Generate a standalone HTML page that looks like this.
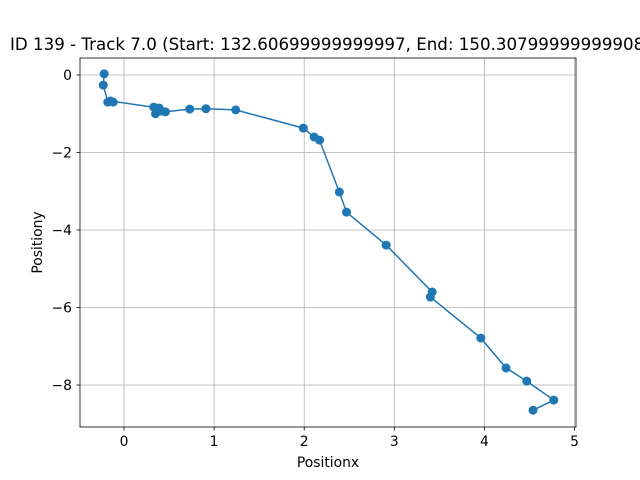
<!DOCTYPE html>
<html><head><meta charset="utf-8"><style>
html,body{margin:0;padding:0;background:#fff;}
svg{display:block;font-family:"DejaVu Sans","Liberation Sans",sans-serif;}
</style></head><body>
<svg id="chart" width="640" height="480" viewBox="0 0 640 480">
<rect width="640" height="480" fill="#fff"/>
<text x="10" y="50" font-size="16.67" fill="#000">ID 139 - Track 7.0 (Start: 132.60699999999997, End: 150.30799999999908)</text>
<g id="grid"></g>
<g id="series"></g>
<rect x="80" y="58" width="496" height="369" fill="none" stroke="#000" stroke-width="0.8"/>
<g id="axes"></g>
<text x="328" y="467" font-size="13.9" text-anchor="middle">Positionx</text>
<text transform="translate(42,242.5) rotate(-90)" font-size="13.9" text-anchor="middle">Positiony</text>
</svg>
<script>
const xValues = [-0.22,-0.23,-0.18,-0.12,-0.15,0.33,0.39,0.35,0.41,0.46,0.73,0.91,1.24,1.99,2.11,2.17,2.39,2.47,2.91,3.42,3.40,3.96,4.24,4.47,4.77,4.54];
const yValues = [0.03,-0.26,-0.70,-0.70,-0.67,-0.83,-0.85,-1.00,-0.93,-0.95,-0.88,-0.87,-0.90,-1.37,-1.60,-1.68,-3.02,-3.54,-4.39,-5.60,-5.73,-6.79,-7.56,-7.90,-8.39,-8.65];
const xTicks = [0,1,2,3,4,5];
const yTicks = [0,-2,-4,-6,-8];
const xTickLabels = ["0","1","2","3","4","5"];
const yTickLabels = ["0","\u22122","\u22124","\u22126","\u22128"];

const ns = "http://www.w3.org/2000/svg";
function sx(v){ return 124 + v*90.1; }
function sy(v){ return 75 - v*38.75; }
function mk(tag, attrs, parent){ const e=document.createElementNS(ns,tag); for(const k in attrs) e.setAttribute(k,attrs[k]); parent.appendChild(e); return e; }
const grid=document.getElementById('grid'), axes=document.getElementById('axes'), series=document.getElementById('series');
xTicks.forEach((t,i)=>{
  const x=sx(t);
  const g=mk('line',{x1:x,x2:x,y1:58,y2:427,stroke:'#b0b0b0','stroke-width':0.8},grid);
  
  
  const tk=mk('line',{x1:x,x2:x,y1:427,y2:430.5,stroke:'#000','stroke-width':0.8},axes);
  
  
  const lb=mk('text',{x:x,y:446,'font-size':13.9,'text-anchor':'middle'},axes);
  lb.textContent=xTickLabels[i];
  
  
});
yTicks.forEach((t,i)=>{
  const y=sy(t);
  const g=mk('line',{x1:80,x2:576,y1:y,y2:y,stroke:'#b0b0b0','stroke-width':0.8},grid);
  
  
  const tk=mk('line',{x1:76.5,x2:80,y1:y,y2:y,stroke:'#000','stroke-width':0.8},axes);
  
  
  const lb=mk('text',{x:72,y:y+5,'font-size':13.9,'text-anchor':'end'},axes);
  lb.textContent=yTickLabels[i];
  
  
});
const pts=xValues.map((v,i)=>sx(v).toFixed(1)+','+sy(yValues[i]).toFixed(1)).join(' ');
const line=mk('polyline',{points:pts,fill:'none',stroke:'#1f77b4','stroke-width':1.5},series);


xValues.forEach((v,i)=>{
  const c=mk('circle',{cx:sx(v),cy:sy(yValues[i]),r:4.5,fill:'#1f77b4'},series);
  
  
});
</script>
</body></html>
